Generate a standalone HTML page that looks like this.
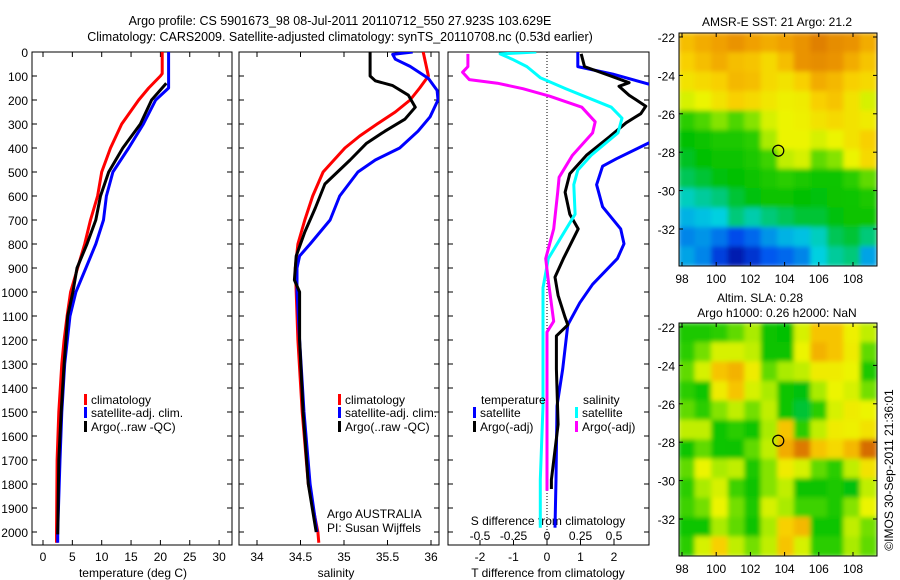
<!DOCTYPE html>
<html><head><meta charset="utf-8">
<style>
html,body{margin:0;padding:0;background:#fff;}
svg{display:block;font-family:"Liberation Sans",sans-serif;}
text{font-size:12px;fill:#000;}
</style></head>
<body>
<svg id="chart" width="900" height="580" viewBox="0 0 900 580" xmlns="http://www.w3.org/2000/svg">
<defs>
<filter id="blur" x="0" y="0" width="100%" height="100%"><feGaussianBlur stdDeviation="2.5" edgeMode="duplicate"/></filter>
<clipPath id="clip1"><rect x="32" y="52" width="200" height="493"/></clipPath>
<clipPath id="clip2"><rect x="239" y="52" width="200" height="493"/></clipPath>
<clipPath id="clip3"><rect x="448" y="52" width="201" height="493"/></clipPath>
<clipPath id="clipm1"><rect x="679" y="33" width="198" height="233"/></clipPath>
<clipPath id="clipm2"><rect x="679" y="323" width="198" height="233"/></clipPath>
</defs>
<text x="340" y="25" text-anchor="middle" style="font-size:12.5px">Argo profile: CS 5901673_98 08-Jul-2011 20110712_550 27.923S 103.629E</text>
<text x="340" y="41" text-anchor="middle" style="font-size:12.5px">Climatology: CARS2009. Satellite-adjusted climatology: synTS_20110708.nc (0.53d earlier)</text>
<g id="g"></g>
<text transform="translate(893,470) rotate(-90)" text-anchor="middle">©IMOS 30-Sep-2011 21:36:01</text>
</svg>
<script>
// ---- data ----
const tClimDepth=[0,90,100,150,200,300,400,500,600,700,800,900,1000,1100,1200,1300,1500,1700,2000,2045];
const tClim=[20.3,20.3,20.0,18.0,16.3,13.4,11.5,10.0,9.3,8.1,7.1,5.9,4.7,4.1,3.6,3.2,2.7,2.4,2.3,2.3];
const tSatDepth=[0,150,200,300,400,500,600,700,800,900,1000,1100,1300,1500,1700,2000,2045];
const tSat=[21.4,21.4,19.2,17.1,14.6,11.9,10.8,10.3,9.0,7.3,5.6,4.6,3.7,3.2,2.9,2.5,2.5];
const tArgoDepth=[130,200,300,400,500,600,700,800,900,1000,1100,1300,1500,1700,2010];
const tArgo=[21.0,18.5,16.6,13.6,11.2,9.8,9.0,7.5,5.8,5.1,4.2,3.6,3.1,2.7,2.5];
const sClimDepth=[0,100,150,200,250,300,350,400,500,600,700,800,900,1000,1200,1500,1800,2000,2045];
const sClim=[35.91,35.97,35.87,35.76,35.59,35.38,35.18,35.01,34.76,34.64,34.55,34.47,34.44,34.45,34.47,34.52,34.59,34.70,34.71];
const sArgoDepth=[0,100,120,140,180,230,280,330,380,450,550,650,750,850,950,1000,1200,1500,1800,2000];
const sArgo=[35.30,35.30,35.36,35.56,35.74,35.82,35.70,35.47,35.26,35.07,34.78,34.67,34.55,34.45,34.43,34.49,34.49,34.53,34.59,34.68];
const sSatDepth=[0,10,30,60,110,160,200,270,330,400,450,500,600,700,800,850,900,1000,1200,1500,1800,2000];
const sSat=[35.79,35.56,35.59,35.76,35.97,36.07,36.08,35.99,35.85,35.64,35.36,35.16,34.95,34.84,34.61,34.49,34.46,34.46,34.49,34.54,34.61,34.69];
const dTSatDepth=[0,61,92,140,368,445,476,553,645,737,799,861,968,1045,1137,1321,1475,1782,1982];
const dTSat=[0.92,0.92,1.96,3.2,3.2,2.07,1.66,1.48,1.66,2.2,2.3,2.1,1.36,0.98,0.62,0.47,0.30,0.27,0.24];
const dTArgoDepth=[8,61,98,128,143,180,226,257,295,353,430,507,584,676,737,861,938,1014,1106,1137,1183,1321,1552,1782,1821];
const dTArgo=[1.02,1.12,1.86,2.45,2.15,2.45,2.95,2.8,2.36,1.87,1.18,0.68,0.54,0.68,0.93,0.49,0.24,0.33,0.54,0.62,0.28,0.28,0.33,0.13,0.13];
const dSSatDepth=[0,8,30,61,107,153,230,276,337,430,492,553,676,768,861,983,1167,1475,1782,1982];
const dSSat=[-0.08,-0.35,-0.26,-0.15,-0.05,0.14,0.48,0.56,0.53,0.33,0.23,0.20,0.21,0.11,0.01,-0.03,-0.03,-0.03,-0.05,-0.05];
const dSArgoDepth=[8,61,84,115,130,153,184,230,291,337,430,522,584,737,861,953,1122,1167,1321,1828];
const dSArgo=[-0.59,-0.59,-0.63,-0.58,-0.37,-0.18,0.02,0.26,0.36,0.34,0.19,0.09,0.08,0.05,-0.01,0.01,0.05,0.0,0.0,0.0];
const depthTicks=[0,100,200,300,400,500,600,700,800,900,1000,1100,1200,1300,1400,1500,1600,1700,1800,1900,2000];
const tTicks=[0,5,10,15,20,25,30];
const sTicks=[34,34.5,35,35.5,36];
const dTTicks=[-2,-1,0,1,2];
const dSTicks=[-0.5,-0.25,0,0.25,0.5];
const dSTickLabels=["-0.5","-0.25","0","0.25","0.5"];
const latTicks=[-22,-24,-26,-28,-30,-32];
const lonTicks=[98,100,102,104,106,108];
const argoLon=103.629, argoLat=-27.923;
const sstGrid=[
[.75,.78,.8,.82,.8,.78,.8,.82,.85,.83,.82,.78],
[.72,.75,.78,.75,.74,.7,.75,.82,.83,.82,.78,.74],
[.68,.7,.72,.76,.75,.7,.68,.72,.78,.76,.72,.7],
[.62,.64,.68,.72,.7,.67,.65,.66,.72,.74,.68,.62],
[.5,.53,.56,.53,.56,.62,.64,.65,.68,.7,.68,.66],
[.45,.46,.48,.48,.5,.58,.64,.64,.62,.64,.68,.72],
[.43,.45,.46,.46,.48,.52,.6,.62,.54,.56,.64,.7],
[.4,.42,.44,.45,.46,.48,.5,.48,.47,.47,.5,.54],
[.34,.36,.38,.42,.44,.46,.46,.45,.44,.46,.47,.48],
[.28,.3,.32,.38,.35,.38,.4,.42,.42,.44,.46,.46],
[.22,.24,.2,.14,.18,.24,.28,.3,.34,.4,.42,.38],
[.26,.22,.12,.05,.1,.16,.18,.22,.32,.36,.38,.26]];
const slaGrid=[
[.48,.48,.5,.54,.58,.46,.45,.62,.74,.74,.65,.6],
[.5,.55,.62,.62,.6,.46,.46,.64,.77,.74,.66,.54],
[.54,.62,.74,.77,.66,.54,.58,.6,.66,.66,.64,.48],
[.5,.47,.66,.74,.62,.58,.47,.44,.58,.64,.62,.55],
[.54,.5,.56,.6,.55,.6,.47,.42,.5,.62,.66,.64],
[.6,.6,.47,.5,.47,.58,.74,.5,.6,.66,.65,.68],
[.47,.54,.47,.46,.54,.6,.78,.86,.74,.7,.76,.88],
[.54,.64,.58,.6,.48,.56,.66,.62,.54,.5,.6,.68],
[.5,.58,.62,.52,.46,.56,.6,.46,.46,.48,.44,.6],
[.52,.55,.64,.55,.48,.62,.58,.52,.52,.48,.56,.64],
[.47,.47,.58,.54,.46,.58,.72,.76,.47,.47,.6,.55],
[.5,.62,.72,.6,.55,.6,.74,.62,.5,.5,.58,.54]];

// ---- helpers ----
const NS="http://www.w3.org/2000/svg";
const G=document.getElementById('g');
function mk(tag,attrs,parent){const e=document.createElementNS(NS,tag);for(const k in attrs)e.setAttribute(k,attrs[k]);(parent||G).appendChild(e);return e;}
const yD=d=>52+d*0.24;
const xT=v=>43+v*5.87;
const xS=v=>257+(v-34)*87;
const xDT=v=>547+v*33.5;
const xDS=v=>547+v*134;
function panel(name,x0,w){
  const r=mk('rect',{x:x0,y:52,width:w,height:493,fill:'none',stroke:'#000','stroke-width':1});
  
  
  depthTicks.forEach(d=>{const y=yD(d);mk('line',{x1:x0,x2:x0+5,y1:y,y2:y,stroke:'#000'});mk('line',{x1:x0+w-5,x2:x0+w,y1:y,y2:y,stroke:'#000'});});
}
function xticks(arr,fx,lbls,y,x0,w,bottomOnly){
  arr.forEach((v,i)=>{const x=fx(v);
    mk('line',{x1:x,x2:x,y1:545,y2:540,stroke:'#000'});
    if(!bottomOnly)mk('line',{x1:x,x2:x,y1:52,y2:57,stroke:'#000'});
    const t=mk('text',{x:x,y:y,'text-anchor':'middle'});t.textContent=lbls?lbls[i]:String(v);
    
    
  });
}
function line(depths,vals,fx,color,clip,name){
  const pts=depths.map((d,i)=>fx(vals[i]).toFixed(1)+','+yD(d).toFixed(1)).join(' ');
  const p=mk('polyline',{points:pts,fill:'none',stroke:color,'stroke-width':3,'stroke-linejoin':'round','clip-path':'url(#'+clip+')'});
  
  
}
function txt(s,x,y,anchor,name){const t=mk('text',{x:x,y:y,'text-anchor':anchor||'start'});t.textContent=s;
  
  return t;}
function legend(x,y,color,label,name){mk('rect',{x:x,y:y-10,width:3,height:11,fill:color});txt(label,x+7,y,'start',name);}

// ---- panel 1 temperature ----
panel('temperature-panel',32,200);
depthTicks.forEach(d=>{txt(String(d),28,yD(d)+5,'end','y-tick-label');});
xticks(tTicks,xT,null,561,32,200);
txt('temperature (deg C)',133,577,'middle','temperature-axis-title');
line(tClimDepth,tClim,xT,'#ff0000','clip1','temp-climatology-line');
line(tSatDepth,tSat,xT,'#0000ff','clip1','temp-satellite-line');
line(tArgoDepth,tArgo,xT,'#000000','clip1','temp-argo-line');
legend(84,404,'#ff0000','climatology','legend-climatology');
legend(84,417,'#0000ff','satellite-adj. clim.','legend-satellite');
legend(84,431,'#000000','Argo(..raw -QC)','legend-argo');

// ---- panel 2 salinity ----
panel('salinity-panel',239,200);
xticks(sTicks,xS,null,561,239,200);
txt('salinity',336,577,'middle','salinity-axis-title');
line(sClimDepth,sClim,xS,'#ff0000','clip2','sal-climatology-line');
line(sSatDepth,sSat,xS,'#0000ff','clip2','sal-satellite-line');
line(sArgoDepth,sArgo,xS,'#000000','clip2','sal-argo-line');
legend(338,404,'#ff0000','climatology','legend-climatology-2');
legend(338,417,'#0000ff','satellite-adj. clim.','legend-satellite-2');
legend(338,431,'#000000','Argo(..raw -QC)','legend-argo-2');
txt('Argo AUSTRALIA',327,518,'start','float-owner-label');
txt('PI: Susan Wijffels',327,532,'start','pi-label');

// ---- panel 3 differences ----
panel('difference-panel',448,201);
mk('line',{x1:547,x2:547,y1:52,y2:545,stroke:'#000','stroke-dasharray':'1,2'});
xticks(dTTicks,xDT,null,561,448,201,true);
dSTicks.forEach((v,i)=>{txt(dSTickLabels[i],xDS(v),540,'middle','s-tick-label');});
txt('S difference from climatology',548,525,'middle','s-axis-title');
txt('T difference from climatology',548,577,'middle','t-axis-title');
line(dTSatDepth,dTSat,xDT,'#0000ff','clip3','dT-satellite-line');
line(dTArgoDepth,dTArgo,xDT,'#000000','clip3','dT-argo-line');
line(dSSatDepth,dSSat,xDS,'#00ffff','clip3','dS-satellite-line');
line(dSArgoDepth,dSArgo,xDS,'#ff00ff','clip3','dS-argo-line');
txt('temperature',481,404,'start','legend-temperature-header');
txt('salinity',583,404,'start','legend-salinity-header');
legend(473,417,'#0000ff','satellite','legend-dT-satellite');
legend(473,431,'#000000','Argo(-adj)','legend-dT-argo');
legend(575,417,'#00ffff','satellite','legend-dS-satellite');
legend(575,431,'#ff00ff','Argo(-adj)','legend-dS-argo');

// ---- maps ----
const stops=[[0,[0,0,144]],[.15,[0,80,240]],[.32,[0,208,224]],[.45,[0,192,0]],[.52,[60,210,0]],[.58,[170,235,0]],[.64,[236,244,0]],[.72,[248,208,0]],[.8,[240,160,0]],[.9,[208,96,0]],[1,[176,48,0]]];
function cmap(v){v=Math.max(0,Math.min(1,v));for(let i=1;i<stops.length;i++){if(v<=stops[i][0]){const a=stops[i-1],b=stops[i],f=(v-a[0])/(b[0]-a[0]);return 'rgb('+a[1].map((c,k)=>Math.round(c+(b[1][k]-c)*f)).join(',')+')';}}return 'rgb(176,48,0)';}
const xLon=l=>682+(l-98)*17.1;
function drawMap(grid,top,clip,name){
  const yLat=l=>top+4+(-22-l)*19.2;
  const gEl=mk('g',{'clip-path':'url(#'+clip+')'});
  
  
  const inner=mk('g',{filter:'url(#blur)'},gEl);
  const nr=grid.length,nc=grid[0].length;
  const lon0=97.8,lon1=109.4,lat0=-21.8,lat1=-33.95;
  grid.forEach((row,r)=>row.forEach((v,c)=>{
    const x=xLon(lon0+(lon1-lon0)*c/nc),x2=xLon(lon0+(lon1-lon0)*(c+1)/nc);
    const y=yLat(lat0+(lat1-lat0)*r/nr),y2=yLat(lat0+(lat1-lat0)*(r+1)/nr);
    const cell=mk('rect',{x:x-0.5,y:y-0.5,width:x2-x+1,height:y2-y+1,fill:cmap(v)},inner);
    
    
  }));
  mk('rect',{x:679,y:top,width:198,height:233,fill:'none',stroke:'#000'});
  latTicks.forEach(l=>{const y=yLat(l);mk('line',{x1:679,x2:683,y1:y,y2:y,stroke:'#000'});mk('line',{x1:873,x2:877,y1:y,y2:y,stroke:'#000'});txt(String(l),675,y+5,'end','lat-tick-label');});
  lonTicks.forEach(l=>{const x=xLon(l);mk('line',{x1:x,x2:x,y1:top+233,y2:top+229,stroke:'#000'});mk('line',{x1:x,x2:x,y1:top,y2:top+4,stroke:'#000'});txt(String(l),x,top+250,'middle','lon-tick-label');});
  const c=mk('circle',{cx:xLon(argoLon),cy:yLat(argoLat),r:5.5,fill:'none',stroke:'#000','stroke-width':1.2});
  
  
}
drawMap(sstGrid,33,'clipm1','sst-map');
drawMap(slaGrid,323,'clipm2','sla-map');
txt('AMSR-E SST: 21 Argo: 21.2',777,26,'middle','sst-map-title');
txt('Altim. SLA: 0.28',760,302,'middle','sla-map-title');
txt('Argo h1000: 0.26 h2000: NaN',777,317,'middle','sla-map-subtitle');
</script>
</body></html>
